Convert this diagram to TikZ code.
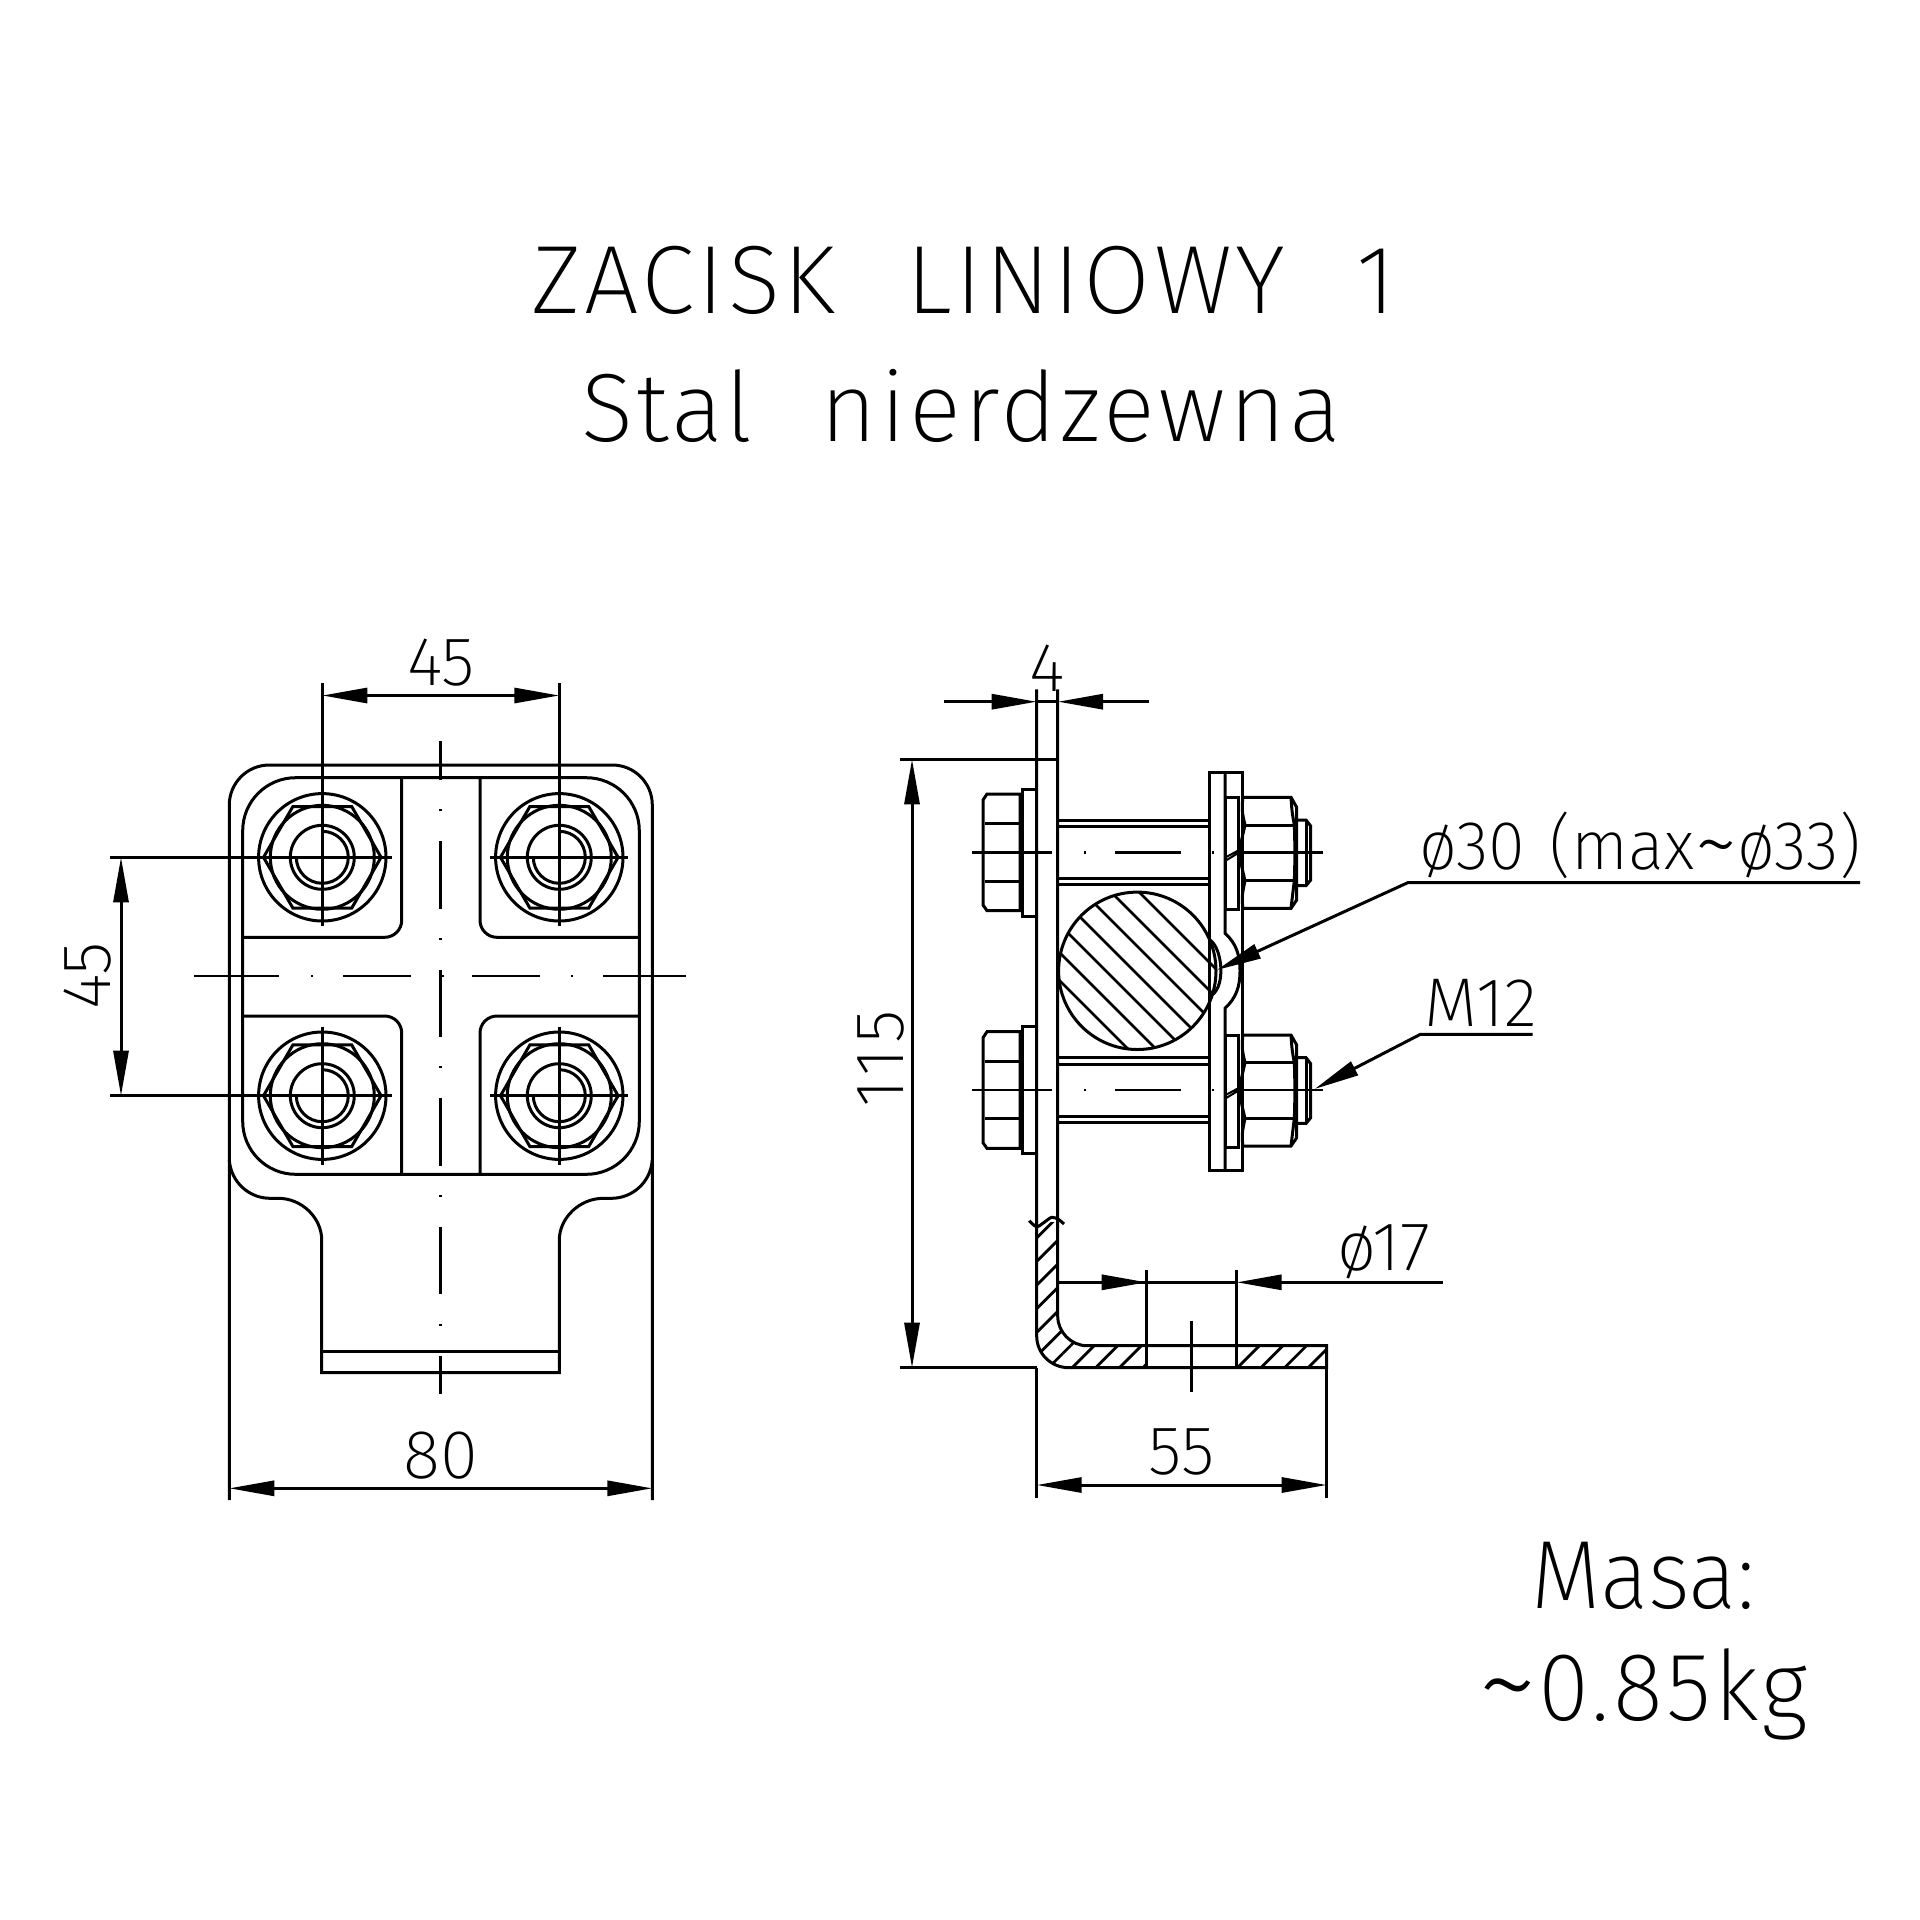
\documentclass[tikz,border=0pt]{standalone}
\usepackage{fontspec}
\usetikzlibrary{arrows.meta}
\newfontfamily\cadfont{Fira Sans}[UprightFont=* ExtraLight]
\newfontfamily\cadwide{Fira Sans}[UprightFont=* ExtraLight,LetterSpace=3.5]
\newcommand{\bigtxt}{\cadwide\fontsize{97pt}{97pt}\selectfont}
\newcommand{\dimtxt}{\cadfont\fontsize{69pt}{69pt}\selectfont}
\newcommand{\tld}{\raisebox{-0.09em}{\scalebox{1.4}{\char"7E\relax}}}
\tikzset{
  part/.style={line width=3pt},
  axisline/.style={line width=2.8pt},
  dimline/.style={line width=3pt},
  hatchline/.style={line width=2.8pt},
  lbl/.style={inner sep=0pt,anchor=base},
}
\begin{document}
\begin{tikzpicture}[x=1pt,y=-1pt,>={Triangle[length=45pt,width=15pt]}]
\useasboundingbox (0,0) rectangle (1920,1920);
\node[lbl] (title) at (963.5,313) {\bigtxt ZACISK\hspace{40pt} LINIOWY\hspace{40pt} 1};
\node[lbl] (material) at (961,441.7) {\bigtxt Stal\hspace{36pt} nierdzewna};
\draw[part,rounded corners=40pt] (229.3,1500) -- (229.3,765) -- (652.3,765) -- (652.3,1500);
\draw[part] (229.3,1160) .. controls (231,1183) and (250,1198.3) .. (270,1198.3) -- (278.3,1198.3)
  .. controls (302,1198.3) and (321.7,1218) .. (321.7,1240) -- (321.7,1372.7) -- (559.3,1372.7) -- (559.3,1240)
  .. controls (559.3,1218) and (579.6,1198.3) .. (603.3,1198.3) -- (611.6,1198.3)
  .. controls (631.6,1198.3) and (650.6,1183) .. (652.3,1160);
\draw[part] (321.7,1351.3) -- (559.3,1351.3);
\draw[part,rounded corners=53pt] (242.7,777.7) rectangle (639.3,1174.3);
\draw[part,rounded corners=17pt] (401.7,777.7) -- (401.7,937.3) -- (242.7,937.3);
\draw[part,rounded corners=17pt] (480,777.7) -- (480,937.3) -- (639.3,937.3);
\draw[part,rounded corners=17pt] (242.7,1016) -- (401.7,1016) -- (401.7,1174.3);
\draw[part,rounded corners=17pt] (639.3,1016) -- (480,1016) -- (480,1174.3);
\foreach \cx/\cy in {322.3/857.3,559.3/857.3,322.3/1095.7,559.3/1095.7}{
  \draw[part] (\cx,\cy) circle[radius=63.7pt] (\cx,\cy) circle[radius=52pt] (\cx,\cy) circle[radius=32pt];
  \draw[part] (\cx,\cy-26) arc[start angle=90,end angle=-180,radius=26pt];
  \draw[part] (\cx-58.8,\cy) -- (\cx-29.4,\cy-50.8) -- (\cx+29.4,\cy-50.8) -- (\cx+58.8,\cy) -- (\cx+29.4,\cy+50.8) -- (\cx-29.4,\cy+50.8) -- cycle;
}
\draw[axisline] (322.3,683) -- (322.3,926) (559.3,683) -- (559.3,926);
\draw[axisline] (322.3,1026.7) -- (322.3,1164.7) (559.3,1026.7) -- (559.3,1164.7);
\draw[axisline] (110,857.3) -- (391.7,857.3) (490.3,857.3) -- (628.3,857.3);
\draw[axisline] (110,1095.7) -- (391.7,1095.7) (490.3,1095.7) -- (628.3,1095.7);
\draw[axisline,dash pattern=on 85.8pt off 31.7pt on 2pt off 30pt on 68pt off 31pt on 2pt off 28pt on 68pt off 31pt on 2pt off 30pt on 86pt] (193.5,976) -- (686,976);
\draw[axisline,dash pattern=on 39pt off 29pt on 2pt off 30pt on 68pt off 29pt on 2pt off 30pt on 67pt off 29pt on 2pt off 30pt on 67.7pt off 29.3pt on 2pt off 30pt on 67pt off 30pt on 2pt off 30pt on 38pt] (440.7,741) -- (440.7,1396);
\draw[dimline,<->] (322.3,695.5) -- (559.3,695.5);
\node[lbl] (dimA) at (441,685) {\dimtxt 45};
\draw[dimline,<->] (121,857.3) -- (121,1095.7);
\node[lbl,rotate=90] (dimB) at (110,976) {\dimtxt 45};
\draw[dimline,<->] (229.3,1488.3) -- (652.3,1488.3);
\node[lbl] (dimC) at (441,1478.3) {\dimtxt 80};
\foreach \dy in {0,237.7}{
\begin{scope}[shift={(0,\dy)}]
  \draw[part] (987,794) -- (983,800) -- (983,905) -- (987,910.7) -- (1020,910.7) -- (1020,794) -- cycle;
  \draw[part] (985,823.3) -- (1020,823.3) (985,881) -- (1020,881);
  \draw[part] (1022.7,789) rectangle (1036.7,916);
  \draw[part] (1058,820) -- (1209.3,820) (1058,826.7) -- (1209.3,826.7);
  \draw[part] (1058,878.3) -- (1209.3,878.3) (1058,884.3) -- (1209.3,884.3);
  \draw[part] (1225,797.3) rectangle (1238.3,909.3);
  \draw[part] (1291,797.3) -- (1242.7,797.3) .. controls (1242,812) .. (1245,825) .. controls (1242,838) and (1240,846) .. (1240,853) .. controls (1240,860) and (1242,868) .. (1245,880.7) .. controls (1242,895) .. (1242.7,908.3) -- (1291,908.3) -- (1296.7,900) -- (1296.7,807.3) -- cycle;
  \draw[part] (1245,825) -- (1294.3,825) (1245,880.7) -- (1294.3,880.7);
  \draw[part] (1291,797.3) .. controls (1292,812) .. (1294.3,825) .. controls (1295,840) and (1295,866) .. (1294.3,880.7) .. controls (1292,895) .. (1291,908.3);
  \draw[part] (1296.7,820) -- (1306,820) -- (1310.7,826) -- (1310.7,880) -- (1306,885.7) -- (1296.7,885.7);
  \draw[part] (1306.7,820) -- (1306.7,885.7);
  \draw[line width=2pt] (1226.7,860) -- (1238.3,853) (1226.7,856.7) -- (1238.3,850.5);
  \draw[axisline,dash pattern=on 79.4pt off 32.3pt on 2pt off 29pt on 66pt off 31pt on 2pt off 28pt on 81pt] (972.3,852.3) -- (1324,852.3);
\end{scope}
}
\draw[part] (1036.7,689.3) -- (1036.7,1336) .. controls (1036.7,1353.6) and (1051,1367.7) .. (1069,1367.7) -- (1326.7,1367.7) -- (1326.7,1345.7) -- (1087,1345.7) .. controls (1071,1345.7) and (1057.7,1332) .. (1057.7,1316) -- (1057.7,689.3);
\draw[part] (1146.7,1270) -- (1146.7,1367.7) (1236.7,1270) -- (1236.7,1367.7);
\draw[axisline] (1191.7,1320.7) -- (1191.7,1392.3);
\draw[part] plot[smooth] coordinates {(1029.3,1220.7) (1036.7,1226.7) (1045,1221.7) (1051.7,1217.3) (1058.3,1219.3) (1064,1224)};
\begin{scope}
  \clip (1036.7,1222) -- (1036.7,1336) .. controls (1036.7,1353.6) and (1051,1367.7) .. (1069,1367.7) -- (1146.7,1367.7) -- (1146.7,1345.7) -- (1087,1345.7) .. controls (1071,1345.7) and (1057.7,1332) .. (1057.7,1316) -- (1057.7,1222) -- cycle
    (1236.7,1345.7) rectangle (1326.7,1367.7);
  \foreach \s in {2251,2274.6,...,2700}
    \draw[hatchline] (\s-1400,1400) -- (\s-1200,1200);
\end{scope}
\draw[part] (1209.3,772.3) rectangle (1242,1170);
\draw[part] (1225,772.3) -- (1225,933.3) .. controls (1236,943) and (1240,955) .. (1240,970.8) .. controls (1240,987) and (1236,998) .. (1225,1008.3) -- (1225,1170);
\draw[part] (1210,940) .. controls (1222,948) and (1226,985) .. (1212,995);
\draw[part] (1137.3,970.8) circle[radius=78.7pt];
\begin{scope}
  \clip (1137.3,970.8) circle[radius=78.7pt];
  \foreach \s in {79,107,...,250}
    \draw[hatchline] (\s+800,800) -- (\s+1100,1100);
\end{scope}
\draw[dimline,->] (944.3,701.7) -- (1036.7,701.7);
\draw[dimline] (1036.7,701.7) -- (1058,701.7);
\draw[dimline,->] (1149,701.7) -- (1058,701.7);
\node[lbl] (dimD) at (1046.7,691.7) {\dimtxt 4};
\draw[dimline] (900,759.3) -- (1057.7,759.3) (900,1367.7) -- (1036.7,1367.7);
\draw[dimline,<->] (912,759.3) -- (912,1367.7);
\node[lbl,rotate=90] (dimE) at (903,1059) {\dimtxt\addfontfeature{LetterSpace=6}115};
\draw[dimline] (1057.7,1282.3) -- (1146.7,1282.3);
\draw[dimline,<-] (1146.7,1282.3) -- (1057.7,1282.3);
\draw[dimline] (1146.7,1282.3) -- (1236.7,1282.3);
\draw[dimline,<-] (1236.7,1282.3) -- (1442.6,1282.3);
\node[lbl] (dimF) at (1384,1270) {\dimtxt ø17};
\draw[dimline] (1326.7,1345.7) -- (1326.7,1498);
\draw[dimline] (1036.7,1367.7) -- (1036.7,1498);
\draw[dimline,<->] (1036.7,1485) -- (1326.7,1485);
\node[lbl] (dimG) at (1182,1474) {\dimtxt 55};
\coordinate (rodtip) at (1216.7,970);
\coordinate (rodbend) at (1407.7,882.7);
\coordinate (rodend) at (1860,882.7);
\draw[dimline,<-] (rodtip) -- (rodbend) -- (rodend);
\node[lbl] (rodtxt) at (1640,869.3) {\scalebox{0.97}[1]{\dimtxt ø30\hspace{6pt} (max\tld ø33)}};
\coordinate (threadtip) at (1314.6,1089);
\coordinate (threadbend) at (1420.4,1034.3);
\coordinate (threadend) at (1532.5,1034.3);
\draw[dimline,<-] (threadtip) -- (threadbend) -- (threadend);
\node[lbl] (threadtxt) at (1481,1026.7) {\dimtxt M12};
\node[lbl] (mass) at (1643,1608) {\scalebox{0.93}[1]{\cadfont\fontsize{97pt}{97pt}\selectfont Masa:}};
\node[lbl] (massval) at (1643,1720) {\scalebox{0.96}[1]{\bigtxt \tld 0.85kg}};
\end{tikzpicture}
\end{document}
